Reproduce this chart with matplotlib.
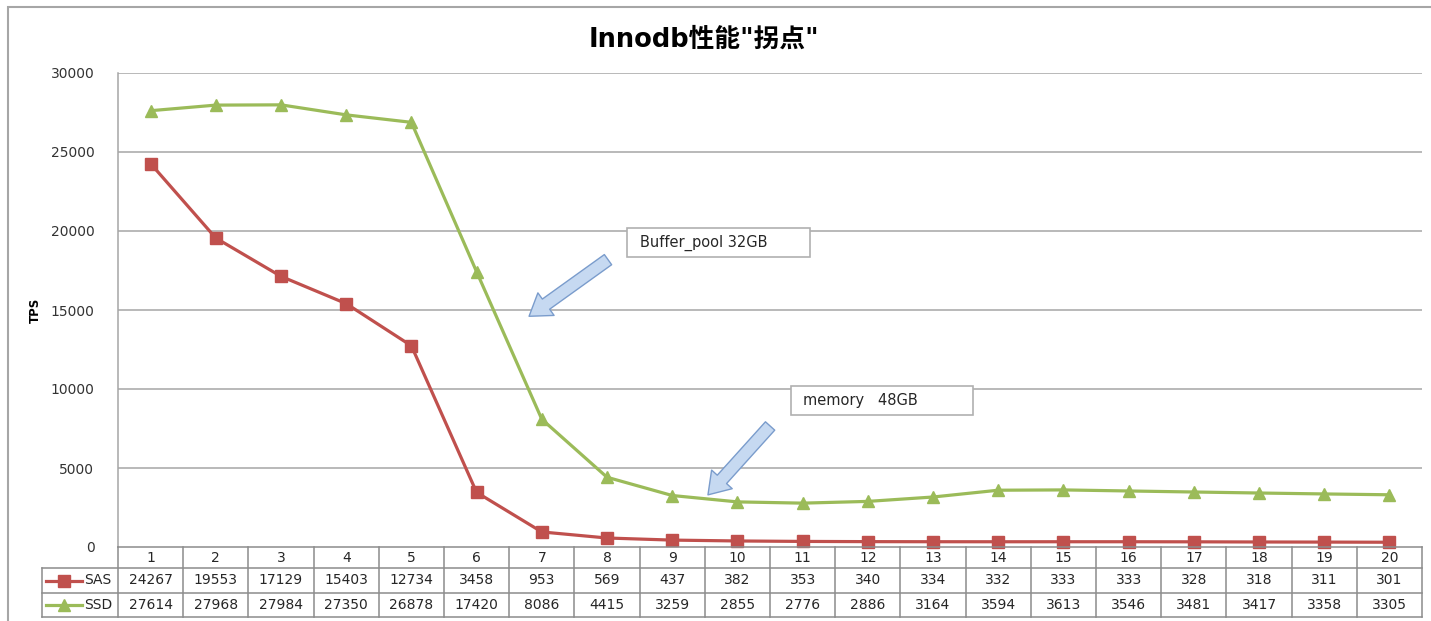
import numpy as np
import matplotlib.pyplot as plt
from matplotlib.patches import Rectangle

plt.rcParams['font.family'] = ['DejaVu Sans', 'Noto Sans CJK SC']

# 数据
runs = list(range(1, 21))
sas = [24267, 19553, 17129, 15403, 12734, 3458, 953, 569, 437, 382,
       353, 340, 334, 332, 333, 333, 328, 318, 311, 301]
ssd = [27614, 27968, 27984, 27350, 26878, 17420, 8086, 4415, 3259, 2855,
       2776, 2886, 3164, 3594, 3613, 3546, 3481, 3417, 3358, 3305]
series_names = ['SAS', 'SSD']
colors = ['#c0504d', '#9bbb59']
markers = ['s', '^']
yticks = [0, 5000, 10000, 15000, 20000, 25000, 30000]

W, H = 1431, 621
fig = plt.figure(figsize=(W / 100, H / 100), dpi=100)

def px_box(x0, y0, x1, y1):
    # 像素坐标 -> 图坐标 [left, bottom, width, height]
    return [x0 / W, 1 - y1 / H, (x1 - x0) / W, (y1 - y0) / H]

# 外框
fig.patches.append(Rectangle((8 / W, -0.05), 1.05, 1 - 7 / H + 0.05,
                             transform=fig.transFigure, fill=False,
                             ec='#a6a6a6', lw=1.5))

ax = fig.add_axes(px_box(118, 73, 1422, 547))
grid_c = '#a6a6a6'
for i, (vals, name) in enumerate(zip([sas, ssd], series_names)):
    ax.plot(runs, vals, color=colors[i], lw=2.3, marker=markers[i],
            ms=9, mec=colors[i], mfc=colors[i], zorder=3, clip_on=False)

ax.set_xlim(0.5, 20.5)
ax.set_ylim(0, 30000)
ax.set_yticks(yticks)
ax.set_yticklabels([str(v) for v in yticks], fontsize=10, color='#333333')
ax.tick_params(axis='y', length=0, pad=17)
ax.set_xticks([])
for v in yticks[1:]:
    ax.axhline(v, color=grid_c, lw=1.1, zorder=1)
for s in ['top', 'right', 'bottom']:
    ax.spines[s].set_visible(False)
ax.spines['left'].set_color(grid_c)
ax.spines['left'].set_linewidth(1.1)
ax.set_ylabel('TPS', fontsize=8.5, fontweight='bold')
ax.yaxis.set_label_coords(-0.058, 0.5)

fig.text(704 / W, 1 - 40 / H, 'Innodb性能"拐点"', ha='center', va='center',
         fontsize=18.5, fontweight='bold')

# 标注框和箭头
def note(x0, y0, x1, y1, text):
    ax.add_patch(Rectangle((x0, y0), x1 - x0, y1 - y0, fc='white',
                           ec='#b0b0b0', lw=1.2, zorder=5))
    ax.text(x0 + 0.19, (y0 + y1) / 2, text, fontsize=10.5, color='#262626',
            va='center', ha='left', zorder=6)

arrow_style = dict(arrowstyle='simple,head_length=0.75,head_width=1.0,tail_width=0.45',
                   mutation_scale=20, fc='#c6d9f1', ec='#7a9ccc', lw=1.0)
note(8.31, 18350, 11.11, 20190, 'Buffer_pool 32GB')
ax.annotate('', xy=(6.77, 14500), xytext=(8.05, 18290),
            arrowprops=arrow_style, zorder=6)
note(10.82, 8350, 13.61, 10190, 'memory   48GB')
ax.annotate('', xy=(9.52, 3170), xytext=(10.53, 7790),
            arrowprops=arrow_style, zorder=6)

# 数据表
tab = fig.add_axes(px_box(42, 547, 1422, 617))
left_edge = 0.5 - (118 - 42) / 65.2
tab.set_xlim(left_edge, 20.5)
tab.set_ylim(70, 0)
tab.axis('off')
rows = [0, 21, 46, 70]
line_kw = dict(color='#8c8c8c', lw=1.1, clip_on=False)
tab.plot([0.5, 20.5], [rows[0]] * 2, **line_kw)
for r in rows[1:]:
    tab.plot([left_edge, 20.5], [r, r], **line_kw)
tab.plot([left_edge, left_edge], [rows[1], rows[3]], **line_kw)
for k in range(21):
    tab.plot([0.5 + k, 0.5 + k], [rows[0], rows[3]], **line_kw)

txt_c = '#262626'
for k in runs:
    tab.text(k, (rows[0] + rows[1]) / 2, str(k), ha='center', va='center',
             fontsize=10, color=txt_c)
for i, vals in enumerate([sas, ssd]):
    yc = (rows[i + 1] + rows[i + 2]) / 2
    for k, v in zip(runs, vals):
        tab.text(k, yc, str(v), ha='center', va='center', fontsize=10,
                 color=txt_c)
    tab.plot([left_edge + 0.06, left_edge + 0.62], [yc, yc], color=colors[i],
             lw=2.3, clip_on=False)
    tab.plot([left_edge + 0.34], [yc], marker=markers[i], ms=8,
             color=colors[i], clip_on=False)
    tab.text(left_edge + 0.645, yc, series_names[i], ha='left', va='center',
             fontsize=10, color=txt_c)

fig.savefig('out.png', dpi=100)
